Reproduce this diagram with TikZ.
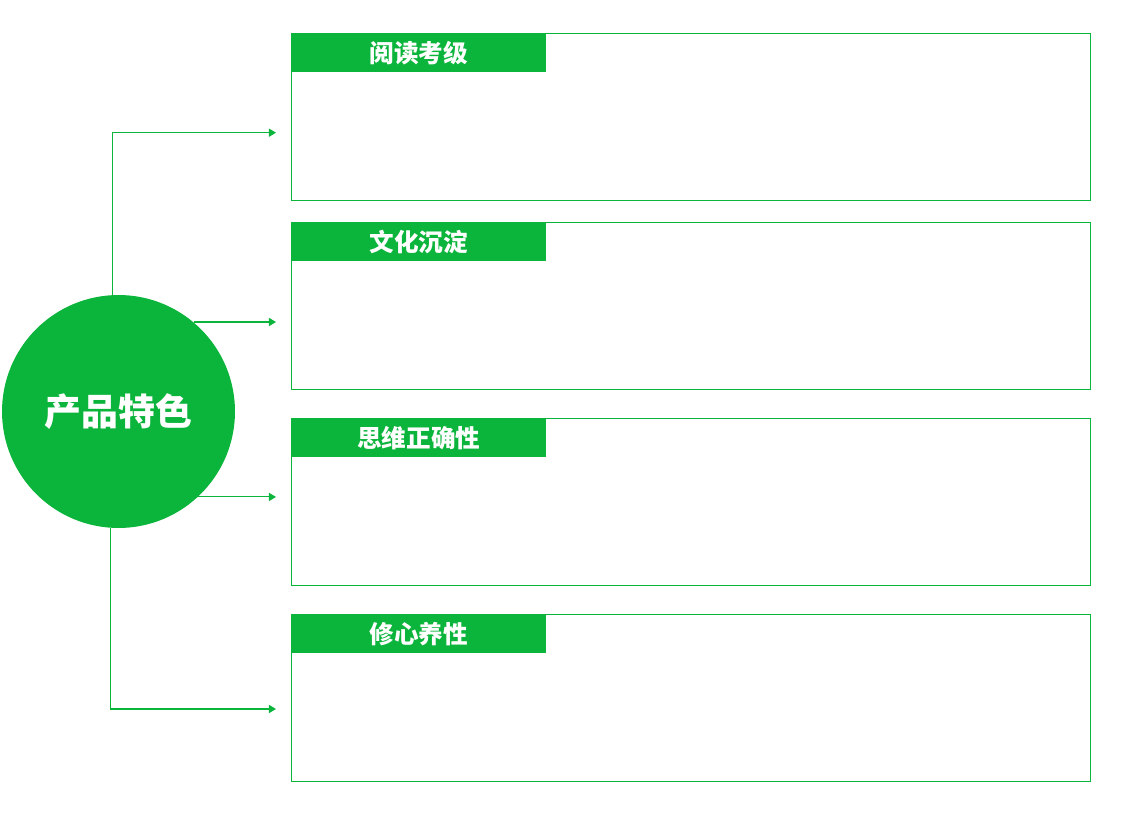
\documentclass[tikz,border=0pt]{standalone}
\usepackage{fontspec}
\newfontfamily\cjk{Noto Sans CJK SC}
\usetikzlibrary{arrows.meta,positioning}
\definecolor{leaf}{RGB}{11,180,59}
\begin{document}
\begin{tikzpicture}[x=0.02cm, y=-0.02cm,
    frame/.style={draw=leaf, line width=0.6pt, anchor=north west, minimum width=15.98cm, minimum height=3.34cm, inner sep=0pt},
    tab/.style={fill=leaf, anchor=north west, minimum width=5.1cm, minimum height=0.78cm, inner sep=0pt, text=white, font=\cjk\bfseries\fontsize{14}{14}\selectfont},
    link/.style={draw=leaf, line width=0.6pt, -{Triangle[length=4pt, width=4.6pt]}}]
    \useasboundingbox (0,0) rectangle (1141,813);
    % centre circle
    \node[circle, fill=leaf, minimum size=4.66cm, inner sep=0pt, text=white, font=\cjk\bfseries\fontsize{21}{21}\selectfont] (core) at (118.5,411.5) {产品特色};
    % the four boxes
    \foreach \y/\t [count=\i] in {33/阅读考级, 222/文化沉淀, 418/思维正确性, 614/修心养性}{
        \node[frame] (box\i) at (291,\y) {};
        \node[tab] (head\i) at (box\i.north west) {\t};
    }
    \coordinate (t1) at (276,132.7);
    \coordinate (t2) at (276,321.7);
    \coordinate (t3) at (276,496.7);
    \coordinate (t4) at (276,709);
    \draw[link] (core.93.2) |- (t1);
    \draw[link] (core.50.4) -- (core.50.4 -| t2);
    \draw[link] (core.-47) -- (core.-47 -| t3);
    \draw[link] (core.266.8) |- (t4);
\end{tikzpicture}
\end{document}
